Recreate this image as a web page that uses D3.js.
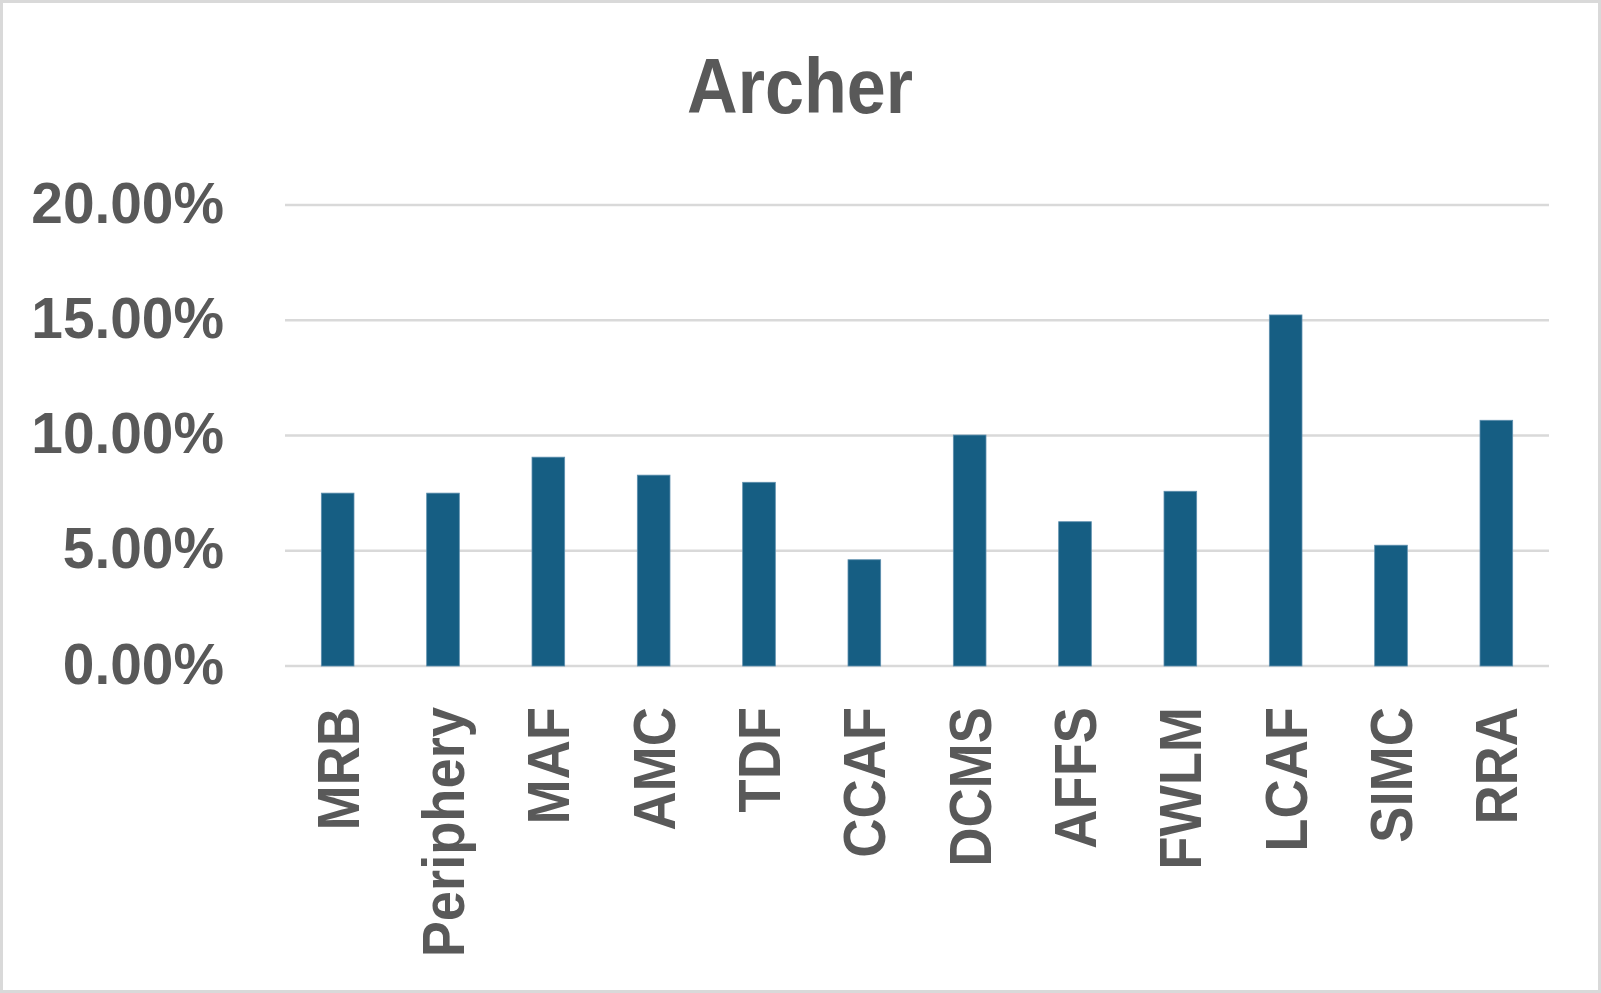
<!DOCTYPE html>
<html>
<head>
<meta charset="utf-8">
<script src="https://cdn.jsdelivr.net/npm/d3@7"></script>
<style>
  html, body { margin: 0; padding: 0; background: #fff; }
  svg { display: block; }
  text { font-family: "Liberation Sans", Arial, sans-serif; font-weight: bold; fill: #595959; }
</style>
</head>
<body>
<svg id="chart" width="1601" height="993"></svg>
<script>
const title = "Archer";
const categories = ["MRB", "Periphery", "MAF", "AMC", "TDF", "CCAF", "DCMS", "AFFS", "FWLM", "LCAF", "SIMC", "RRA"];
const values = [0.0750, 0.0750, 0.0906, 0.0828, 0.0797, 0.0461, 0.1002, 0.0626, 0.0758, 0.1523, 0.0524, 0.1066];
const yTicks = [0, 0.05, 0.10, 0.15, 0.20];

const W = 1601, H = 993;
const svg = d3.select("#chart");

// outer border
svg.append("rect")
  .attr("x", 1.5).attr("y", 1.5)
  .attr("width", W - 3).attr("height", H - 3)
  .attr("fill", "#fff").attr("stroke", "#D9D9D9").attr("stroke-width", 3);

const x = d3.scaleBand().domain(categories).range([285, 1549])
  .paddingInner(0.69).paddingOuter(0.345);
const y = d3.scaleLinear().domain([0, 0.20]).range([666, 205]);

// gridlines
svg.append("g").selectAll("line").data(yTicks).join("line")
  .attr("x1", 285).attr("x2", 1549)
  .attr("y1", d => y(d)).attr("y2", d => y(d))
  .attr("stroke", "#D9D9D9").attr("stroke-width", 2.5);

// y labels
const fmt = d3.format(".2%");
svg.append("g").selectAll("text").data(yTicks).join("text")
  .attr("transform", d => `translate(224,${y(d) + 17.6}) scale(0.98,1)`)
  .attr("text-anchor", "end")
  .attr("font-size", 58)
  .text(d => fmt(d));

// bars
svg.append("g").selectAll("rect").data(values).join("rect")
  .attr("x", (d, i) => x(categories[i]))
  .attr("width", x.bandwidth())
  .attr("y", d => y(d))
  .attr("height", d => y(0) - y(d))
  .attr("fill", "#165E83")
  .attr("stroke", "#5E8FAE").attr("stroke-width", 0.8);

// x labels
svg.append("g").selectAll("text").data(categories).join("text")
  .attr("transform", d => `translate(${x(d) + x.bandwidth() / 2},707) rotate(-90) scale(0.92,1)`)
  .attr("text-anchor", "end")
  .attr("dy", 21)
  .attr("font-size", 59)
  .text(d => d);

// title
svg.append("text")
  .attr("transform", "translate(800,113.3) scale(0.91,1)")
  .attr("text-anchor", "middle")
  .attr("font-size", 77)
  .text(title);
</script>
</body>
</html>
